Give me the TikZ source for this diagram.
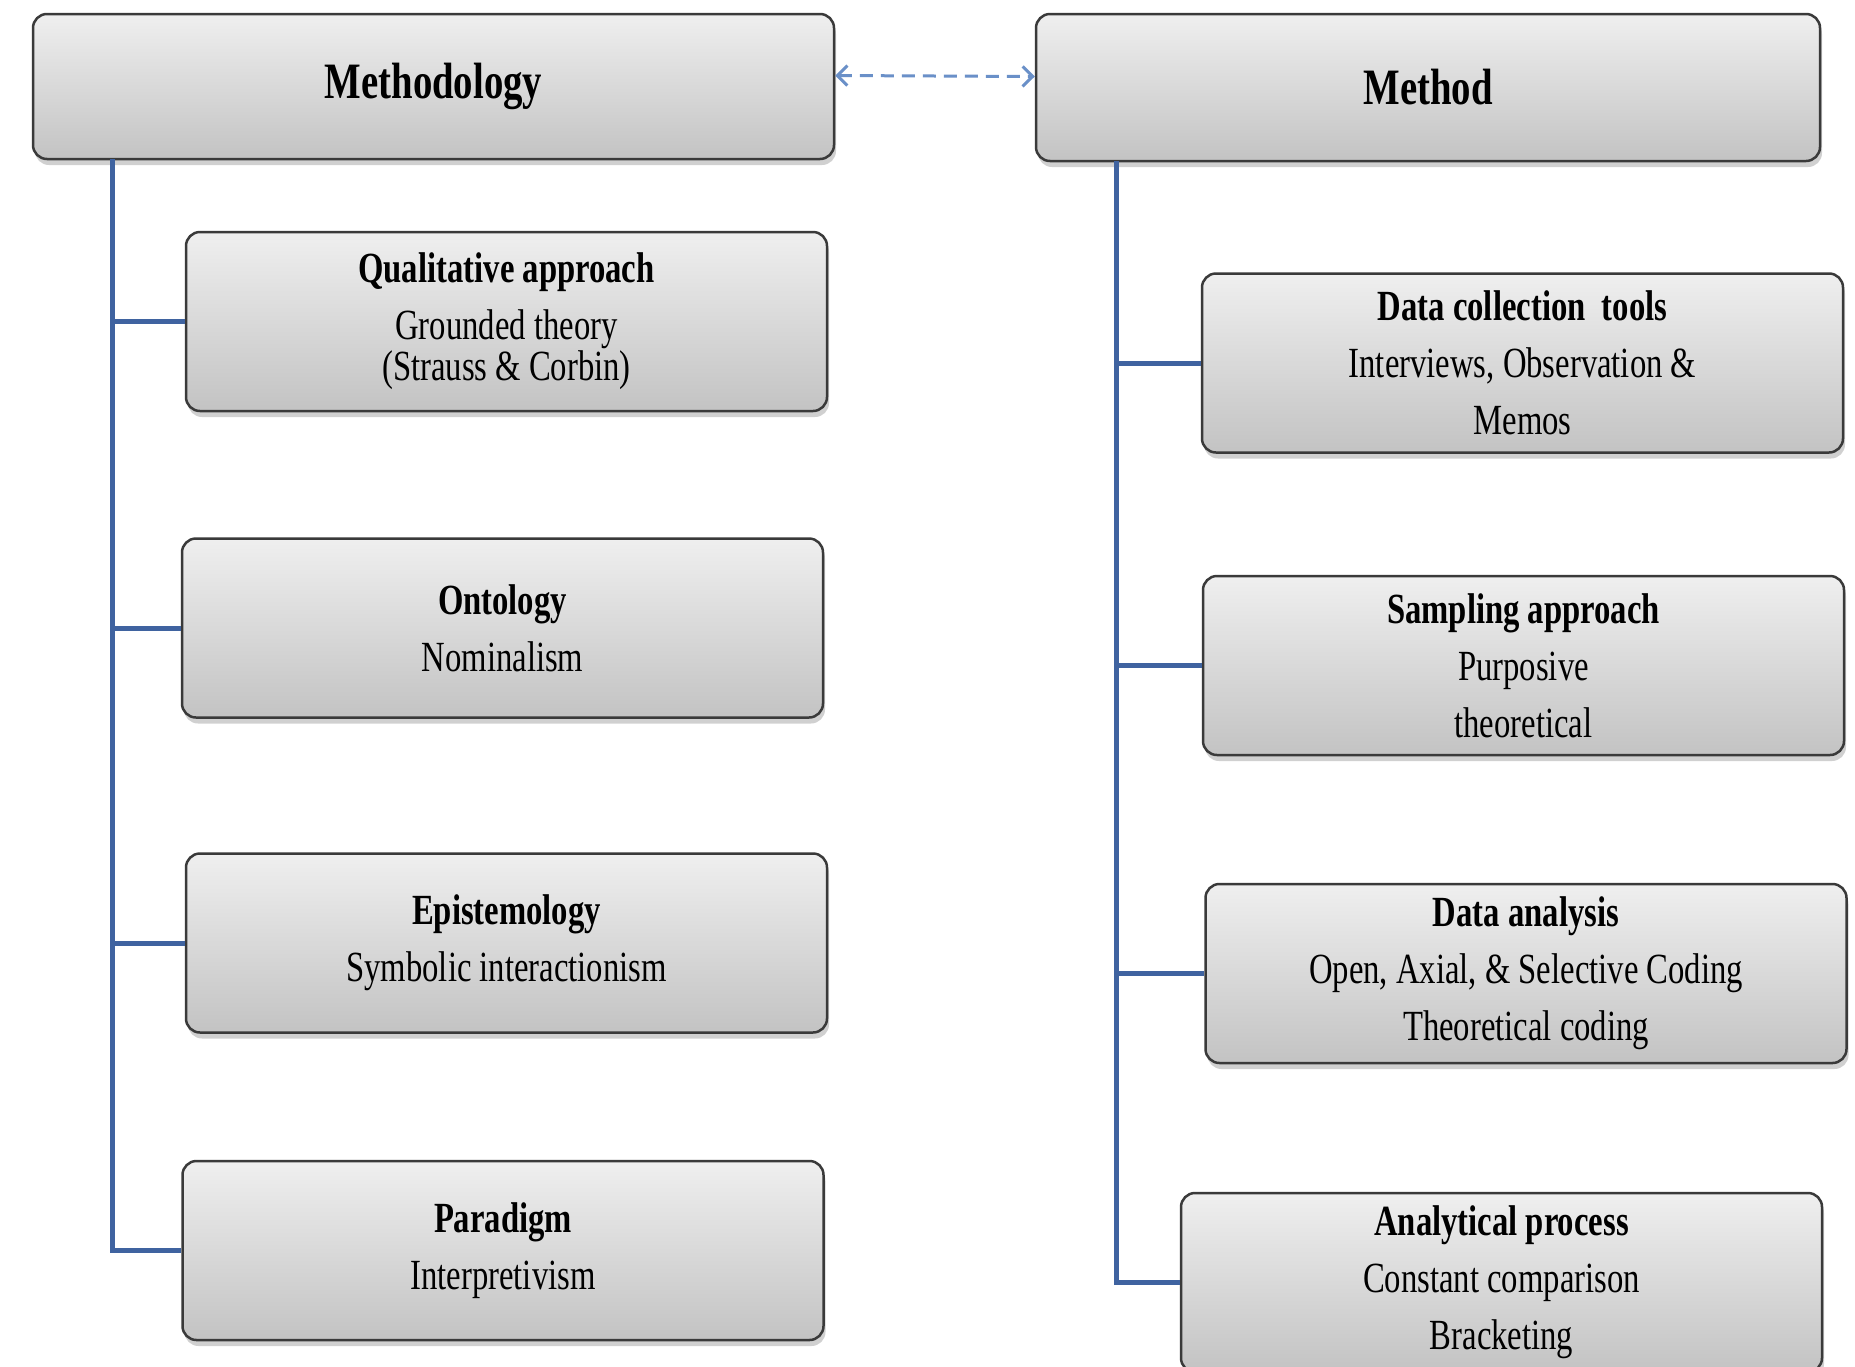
\documentclass[tikz,border=0pt]{standalone}
\usepackage{fontspec}
\setmainfont{Liberation Serif}[FakeStretch=0.76]
\usetikzlibrary{shadows,arrows.meta,calc}
\definecolor{boxtop}{HTML}{EFEFEF}
\definecolor{boxbot}{HTML}{C3C3C3}
\definecolor{boxline}{HTML}{3A3A3A}
\definecolor{treeblue}{HTML}{3F63A0}
\definecolor{arrblue}{HTML}{6A90C8}
\begin{document}
\begin{tikzpicture}[x=1pt,y=-1pt,
  gbox/.style={draw=boxline, line width=2.5pt, rounded corners=14pt,
    top color=boxtop, bottom color=boxbot, align=center, inner sep=0pt,
    drop shadow={shadow xshift=2pt, shadow yshift=-6pt, opacity=0.3, fill=black!60}},
  topbox/.style={gbox, font=\fontsize{51}{60}\selectfont\bfseries},
  subbox/.style={gbox, minimum width=641pt, minimum height=179pt,
    font=\fontsize{43}{57}\selectfont},
  tree/.style={draw=treeblue, line width=5pt},
  dasharrow/.style={draw=arrblue, line width=3pt, dash pattern=on 13pt off 8pt,
    {Straight Barb[length=10pt,width=20pt,line width=3pt]}-{Straight Barb[length=10pt,width=20pt,line width=3pt]}}
]
\useasboundingbox (0,0) rectangle (1855,1366);
\fill[white] (0,0) rectangle (1855,1366);

% top boxes
\node[topbox, minimum width=801pt, minimum height=145pt] (meth) at (433.5,86.5) {Methodology};
\node[topbox, minimum width=784pt, minimum height=147pt] (method) at (1428,87.5) {Method};

% left column
\node[subbox] (qual) at (506.5,321.5) {\textbf{Qualitative approach}\\Grounded theory\\[-16pt](Strauss \& Corbin)};
\node[subbox] (onto) at (502.5,628) {\textbf{Ontology}\\Nominalism};
\node[subbox] (epis) at (506.5,943) {\textbf{Epistemology}\\Symbolic interactionism};
\node[subbox] (para) at (503,1250.5) {\textbf{Paradigm}\\Interpretivism};

% right column
\node[subbox] (dct) at (1522.5,363) {\textbf{Data collection\ \ tools}\\Interviews, Observation \&\\Memos};
\node[subbox] (samp) at (1523.5,665.5) {\textbf{Sampling approach}\\Purposive\\theoretical};
\node[subbox] (dana) at (1526,973.5) {\textbf{Data analysis}\\Open, Axial, \& Selective Coding\\Theoretical coding};
\node[subbox] (anap) at (1501.5,1282.5) {\textbf{Analytical process}\\Constant comparison\\Bracketing};

% tree connectors
\coordinate (lt) at (112,159);
\coordinate (rt) at (1116,161);
\draw[tree] (lt) |- (para.west);
\draw[tree] (lt |- qual.west) -- (qual.west);
\draw[tree] (lt |- onto.west) -- (onto.west);
\draw[tree] (lt |- epis.west) -- (epis.west);
\draw[tree] (rt) |- (anap.west);
\draw[tree] (rt |- dct.west) -- (dct.west);
\draw[tree] (rt |- samp.west) -- (samp.west);
\draw[tree] (rt |- dana.west) -- (dana.west);

% dashed double arrow
\draw[dasharrow] ([yshift=11pt]meth.east) -- ([yshift=11pt]method.west);
\end{tikzpicture}
\end{document}
